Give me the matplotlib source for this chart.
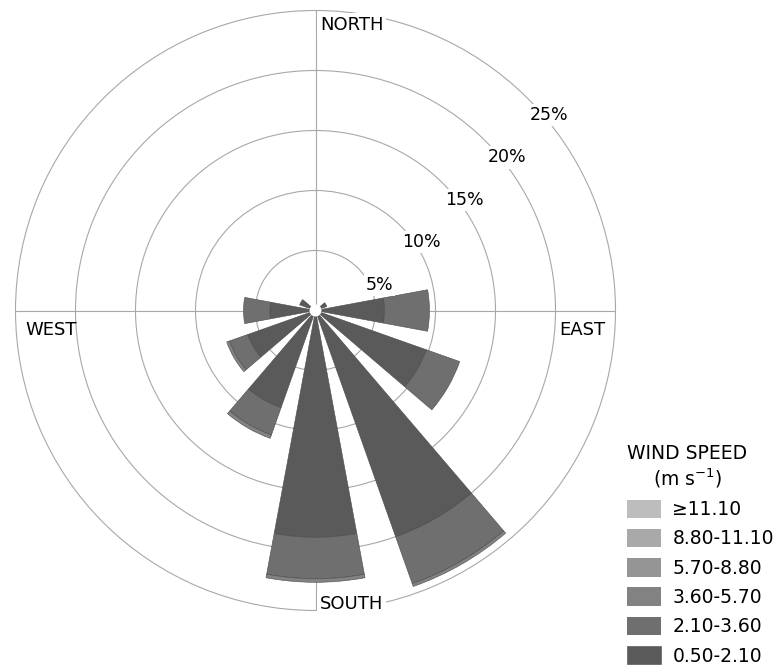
import numpy as np
import matplotlib
matplotlib.use('Agg')
import matplotlib.pyplot as plt

matplotlib.rcParams['font.family'] = 'DejaVu Sans'

# wind directions (deg, clockwise from north)
directions = [0, 30, 60, 90, 120, 150, 180, 210, 240, 270, 300, 330]

# frequency (%) per speed class and direction
freq_050_210 = [0.4, 0.4, 1.0, 5.75, 9.8, 20.0, 18.9, 8.6, 6.0, 3.8, 1.4, 0.4]
freq_210_360 = [0.0, 0.0, 0.0, 3.75, 2.95, 4.15, 3.45, 2.4, 1.6, 2.2, 0.0, 0.0]
freq_360_570 = [0.0, 0.0, 0.0, 0.0, 0.0, 0.25, 0.3, 0.3, 0.25, 0.0, 0.0, 0.0]
freq_570_880 = [0.0] * 12
freq_880_1110 = [0.0] * 12
freq_1110 = [0.0] * 12

speed_labels = ['0.50-2.10', '2.10-3.60', '3.60-5.70', '5.70-8.80', '8.80-11.10', '≥11.10']
speed_colors = ['#5a5a5a', '#6f6f6f', '#828282', '#959595', '#a9a9a9', '#bdbdbd']
rings = [5, 10, 15, 20, 25]

series = [freq_050_210, freq_210_360, freq_360_570, freq_570_880, freq_880_1110, freq_1110]

fig = plt.figure(figsize=(7.83, 6.69), dpi=100)
ax = fig.add_axes([15.5 / 783, 58.5 / 669, 600 / 783, 600 / 669], projection='polar')
ax.set_theta_zero_location('N')
ax.set_theta_direction(-1)

theta = np.deg2rad(directions)
width = np.deg2rad(21)
bottom = np.zeros(len(directions))
handles = []
for vals, col, lab in zip(series, speed_colors, speed_labels):
    vals = np.array(vals)
    edges = ['#4a4a4a' if v > 0 else 'none' for v in vals]
    b = ax.bar(theta, vals, width=width, bottom=bottom, color=col,
               edgecolor=edges, linewidth=0.4, label=lab, zorder=3)
    handles.append(b)
    bottom = bottom + vals

# calm circle in the middle
ax.bar(0, 0.5, width=2 * np.pi, bottom=0, color='white', edgecolor='none', zorder=6)

ax.set_ylim(0, 25)
ax.set_rticks(rings[:-1])
ax.set_yticklabels([])
ax.set_thetagrids([0, 90, 180, 270], labels=['', '', '', ''])
ax.grid(True, color='#a8a8a8', linewidth=0.8)
ax.spines['polar'].set_color('#a8a8a8')
ax.spines['polar'].set_linewidth(0.8)
ax.set_axisbelow(True)

# ring labels
for r in rings:
    ax.annotate(f'{r}%', xy=(np.deg2rad(45), r), xytext=(15.5, -12),
                textcoords='offset points', ha='center', va='center', fontsize=12.5,
                bbox=dict(facecolor='white', edgecolor='none', pad=1.5), zorder=7)

# cardinal labels
box = dict(facecolor='white', edgecolor='none', pad=2)
ax.text(0.5075, 0.976, 'NORTH', transform=ax.transAxes, ha='left', va='center',
        fontsize=13, bbox=box, zorder=7)
ax.text(0.5075, 0.011, 'SOUTH', transform=ax.transAxes, ha='left', va='center',
        fontsize=13, bbox=box, zorder=7)
ax.text(0.016, 0.4675, 'WEST', transform=ax.transAxes, ha='left', va='center',
        fontsize=13, zorder=7)
ax.text(0.9825, 0.4675, 'EAST', transform=ax.transAxes, ha='right', va='center',
        fontsize=13, zorder=7)

leg = fig.legend(handles[::-1], speed_labels[::-1], loc='lower left',
                 bbox_to_anchor=(618 / 783, -6 / 669), frameon=False, fontsize=13.5,
                 title='WIND SPEED\n(m s$^{-1}$)', title_fontsize=13.5,
                 handlelength=1.78, handleheight=1.13, labelspacing=0.52,
                 handletextpad=0.62, borderpad=0, alignment='left')
leg.get_title().set_multialignment('center')

fig.savefig('out.png', dpi=100)
